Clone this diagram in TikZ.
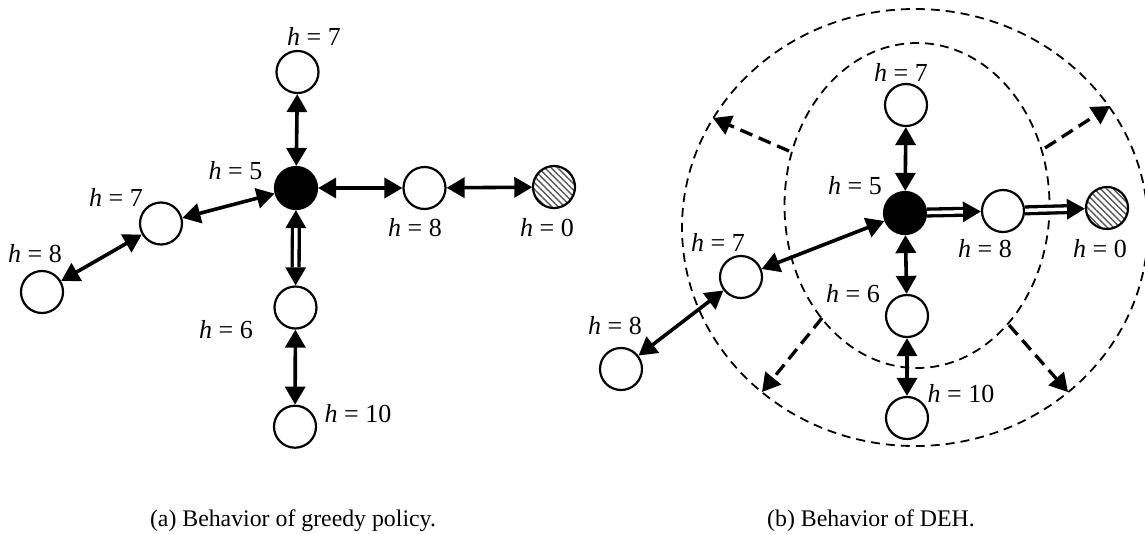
\documentclass[tikz,border=0pt]{standalone}
\usepackage{fontspec}
\setmainfont{Liberation Serif}
\usetikzlibrary{arrows.meta,patterns.meta}
\newcommand\hlab[1]{\textit{h} = #1}
\begin{document}
\begin{tikzpicture}[x=1pt,y=-1pt,
  >={Triangle[length=18pt,width=20pt]},
  nd/.style={circle,draw,line width=2.2pt,minimum size=42pt,inner sep=0pt,fill=white},
  blk/.style={nd,fill=black},
  hat/.style={circle,draw,line width=2.2pt,minimum size=42pt,inner sep=0pt,preaction={fill=white},
    pattern={Lines[angle=-45,distance=4.5pt,line width=1.4pt]},pattern color=black!65},
  lab/.style={inner sep=0pt,font=\fontsize{26}{30}\selectfont},
  captxt/.style={inner sep=0pt,font=\fontsize{23.8}{28}\selectfont,anchor=base},
  sarr/.style={line width=3.6pt,<->},
  sone/.style={line width=3pt,->},
  dshaft/.style={double,double distance=3.5pt,line width=3.3pt},
  ell/.style={line width=1.8pt,dash pattern=on 9pt off 6pt},
  darr/.style={line width=3.3pt,dash pattern=on 13pt off 7pt,->}
]
\useasboundingbox (0,0) rectangle (1145,533);

% ---------- (a) ----------
\node[blk] (a5) at (296,188) {};
\node[nd] (a7t) at (297.5,72) {};
\node[nd] (a8r) at (424.5,188) {};
\node[hat] (a0) at (554,187) {};
\node[nd] (a7l) at (161,223.5) {};
\node[nd] (a8l) at (42,292) {};
\node[nd] (a6) at (295.5,307.5) {};
\node[nd] (a10) at (295,426.7) {};

\node[lab] (la7t) at (314,36) {\hlab{7}};
\node[lab] (la5) at (235.5,171) {\hlab{5}};
\node[lab] (la8r) at (415,228) {\hlab{8}};
\node[lab] (la0) at (547,228) {\hlab{0}};
\node[lab] (la7l) at (116,197) {\hlab{7}};
\node[lab] (la8l) at (35,254) {\hlab{8}};
\node[lab] (la6) at (226,330) {\hlab{6}};
\node[lab] (la10) at (358,414) {\hlab{10}};

\draw[sarr] (a7t) -- (a5);
\draw[sarr] (a5) -- (a8r);
\draw[sarr] (a8r) -- (a0);
\draw[sarr] (a5) -- (a7l);
\draw[sarr] (a7l) -- (a8l);
\draw[sarr] (a6) -- (a10);
\draw[line width=3pt,<->] (a5) -- (a6);
\draw[dshaft,shorten <=18pt,shorten >=18pt] (a5) -- (a6);

% ---------- (b) ----------
\draw[ell] (917,205.5) ellipse [x radius=132.5, y radius=162.5];
\draw[ell] (915,227.5) ellipse [x radius=233, y radius=218.5];

\coordinate (s1) at (789,151); \coordinate (e1) at (713,118);
\coordinate (s2) at (1045,148); \coordinate (e2) at (1110,106);
\coordinate (s3) at (822,318); \coordinate (e3) at (762,392);
\coordinate (s4) at (1009,325); \coordinate (e4) at (1068,392);
\draw[darr] (s1) -- (e1);
\draw[darr] (s2) -- (e2);
\draw[darr] (s3) -- (e3);
\draw[darr] (s4) -- (e4);

\node[blk] (b5) at (905,213) {};
\node[nd] (b7t) at (906,105) {};
\node[nd] (b8r) at (1003,211) {};
\node[hat] (b0) at (1107,208) {};
\node[nd] (b7l) at (741,277) {};
\node[nd] (b8l) at (621,369) {};
\node[nd] (b6) at (907,316) {};
\node[nd] (b10) at (907,418) {};

\node[lab] (lb7t) at (901,72) {\hlab{7}};
\node[lab] (lb5) at (855,186) {\hlab{5}};
\node[lab] (lb8r) at (985,249) {\hlab{8}};
\node[lab] (lb0) at (1100,249) {\hlab{0}};
\node[lab] (lb7l) at (718,242) {\hlab{7}};
\node[lab] (lb8l) at (615,326) {\hlab{8}};
\node[lab] (lb6) at (853,294) {\hlab{6}};
\node[lab] (lb10) at (961,394) {\hlab{10}};

\draw[sarr] (b7t) -- (b5);
\draw[sarr] (b5) -- (b7l);
\draw[sarr] (b7l) -- (b8l);
\draw[sarr] (b5) -- (b6);
\draw[sarr] (b6) -- (b10);
\draw[sone] (b5) -- (b8r);
\draw[dshaft,shorten >=18pt] (b5) -- (b8r);
\draw[sone] (b8r) -- (b0);
\draw[dshaft,shorten >=18pt] (b8r) -- (b0);

% ---------- captions ----------
\node[captxt] (capa) at (293,526) {(a) Behavior of greedy policy.};
\node[captxt] (capb) at (871,526) {(b) Behavior of DEH.};
\end{tikzpicture}
\end{document}
